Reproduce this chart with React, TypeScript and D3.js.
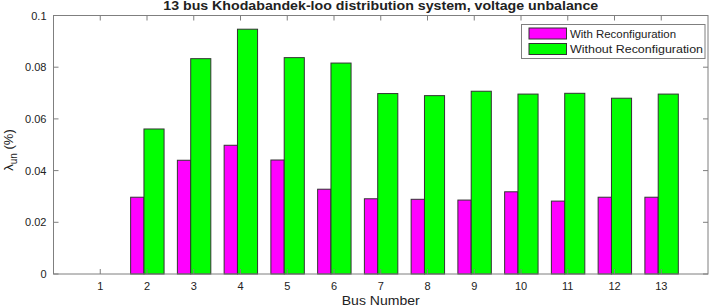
import React from "react";
import * as d3 from "d3";

const buses = [1, 2, 3, 4, 5, 6, 7, 8, 9, 10, 11, 12, 13];
const withReconf = [0, 0.0297, 0.044, 0.0498, 0.0441, 0.0328, 0.0291, 0.0289, 0.0286, 0.0318, 0.0282, 0.0297, 0.0297];
const withoutReconf = [0, 0.0561, 0.0833, 0.0947, 0.0837, 0.0816, 0.0698, 0.069, 0.0707, 0.0696, 0.0699, 0.068, 0.0696];
const yTicks = [0, 0.02, 0.04, 0.06, 0.08, 0.1];
const yTickLabels = ["0", "0.02", "0.04", "0.06", "0.08", "0.1"];
const seriesNames = ["With Reconfiguration", "Without Reconfiguration"];
const seriesColors = ["#ff00ff", "#00ff00"];
const legendTextLengths = [106, 133];

const W = 709;
const H = 308;
const L = 53.5;
const R = 708;
const T = 15.5;
const B = 274;
const FONT = "'Liberation Sans', Arial, sans-serif";

export default function App() {
  const x = d3.scaleLinear().domain([0, 14]).range([L, R]);
  const y = d3.scaleLinear().domain([0, 0.1]).range([B, T]);
  const axisColor = "#7f7f7f";
  const edge = "#333";
  const tickLen = 5;
  const magOff: [number, number] = [-0.35, -0.065];
  const grnOff: [number, number] = [-0.065, 0.365];

  return (
    <svg width={W} height={H} style={{ position: "absolute", left: 0, top: 0, background: "#fff" }}>
      <rect x={0} y={0} width={W} height={H} fill="#fff" />
      {buses.map((b, i) => (
        <g key={b}>
          <rect
            x={x(b + magOff[0])}
            y={y(withReconf[i])}
            width={x(b + magOff[1]) - x(b + magOff[0])}
            height={y(0) - y(withReconf[i])}
            fill={seriesColors[0]}
            stroke={edge}
            strokeWidth={1}
          />
          <rect
            x={x(b + grnOff[0])}
            y={y(withoutReconf[i])}
            width={x(b + grnOff[1]) - x(b + grnOff[0])}
            height={y(0) - y(withoutReconf[i])}
            fill={seriesColors[1]}
            stroke={edge}
            strokeWidth={1}
          />
        </g>
      ))}
      <rect x={L} y={T} width={R - L} height={B - T} fill="none" stroke={axisColor} strokeWidth={1} />
      {buses.map((b) => (
        <g key={"xt" + b}>
          <line x1={x(b)} x2={x(b)} y1={B} y2={B - tickLen} stroke={axisColor} />
          <line x1={x(b)} x2={x(b)} y1={T} y2={T + tickLen} stroke={axisColor} />
          <text x={x(b)} y={B + 16} textAnchor="middle" fontFamily={FONT} fontSize={11} fill="#222">
            {b}
          </text>
        </g>
      ))}
      {yTicks.map((v, i) => (
        <g key={"yt" + v}>
          <line x1={L} x2={L + tickLen} y1={y(v)} y2={y(v)} stroke={axisColor} />
          <line x1={R} x2={R - tickLen} y1={y(v)} y2={y(v)} stroke={axisColor} />
          <text x={L - 7} y={y(v) + 4} textAnchor="end" fontFamily={FONT} fontSize={11} fill="#222">
            {yTickLabels[i]}
          </text>
        </g>
      ))}
      <text
        x={(L + R) / 2}
        y={10}
        textAnchor="middle"
        fontFamily={FONT}
        fontSize={12}
        fontWeight="bold"
        fill="#222"
        textLength={435}
        lengthAdjust="spacingAndGlyphs"
      >
        13 bus Khodabandek-loo distribution system, voltage unbalance
      </text>
      <text
        x={(L + R) / 2}
        y={305}
        textAnchor="middle"
        fontFamily={FONT}
        fontSize={12}
        fill="#222"
        textLength={78}
        lengthAdjust="spacingAndGlyphs"
      >
        Bus Number
      </text>
      <text
        transform={`translate(13, 150) rotate(-90)`}
        textAnchor="middle"
        fontFamily={FONT}
        fontSize={13}
        fill="#222"
      >
        λ<tspan fontSize={10} dy={4}>un</tspan>
        <tspan dy={-4}> (%)</tspan>
      </text>
      <g>
        <rect x={521.5} y={24.5} width={183.5} height={34} fill="#fff" stroke={axisColor} strokeWidth={1} />
        {seriesNames.map((n, i) => (
          <g key={n}>
            <rect x={529} y={28 + i * 15.5} width={37.5} height={11} fill={seriesColors[i]} stroke={edge} strokeWidth={1} />
            <text
              x={570}
              y={37.5 + i * 15.5}
              fontFamily={FONT}
              fontSize={11}
              fill="#222"
              textLength={legendTextLengths[i]}
              lengthAdjust="spacingAndGlyphs"
            >
              {n}
            </text>
          </g>
        ))}
      </g>
    </svg>
  );
}
